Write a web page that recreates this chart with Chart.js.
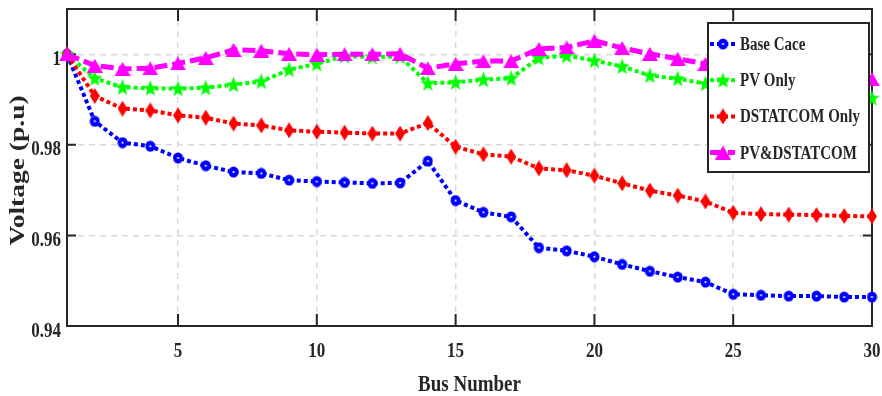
<!DOCTYPE html>
<html>
<head>
<meta charset="utf-8">
<script src="https://cdn.jsdelivr.net/npm/chart.js@4.4.1/dist/chart.umd.min.js"></script>
<style>
  html, body { margin: 0; padding: 0; background: #fff; }
</style>
</head>
<body>
<canvas id="chart" width="882" height="396"></canvas>
<script>
const busNumbers = [1, 2, 3, 4, 5, 6, 7, 8, 9, 10, 11, 12, 13, 14, 15,
    16, 17, 18, 19, 20, 21, 22, 23, 24, 25, 26, 27, 28, 29, 30];

const baseCase = [1.0, 0.9852, 0.9805, 0.9797, 0.9771, 0.9754, 0.9740, 0.9737, 0.9722, 0.9719,
    0.9717, 0.9715, 0.9716, 0.9764, 0.9677, 0.9651, 0.9641, 0.9573, 0.9566, 0.9553,
    0.9536, 0.9521, 0.9508, 0.9497, 0.9470, 0.9468, 0.9466, 0.9466, 0.9464, 0.9464];

const pvOnly = [1.0, 0.9947, 0.9927, 0.9925, 0.9924, 0.9926, 0.9933, 0.9940, 0.9966, 0.9979,
    0.9996, 0.9994, 0.9995, 0.9936, 0.9938, 0.9944, 0.9947, 0.9992, 0.9997, 0.9986,
    0.9973, 0.9953, 0.9946, 0.9935, 0.9926, 0.9921, 0.9916, 0.9912, 0.9906, 0.9903];

const dstatcomOnly = [1.0, 0.9908, 0.9880, 0.9876, 0.9865, 0.9860, 0.9847, 0.9843, 0.9832, 0.9829,
    0.9827, 0.9825, 0.9825, 0.9848, 0.9796, 0.9779, 0.9774, 0.9748, 0.9744, 0.9732,
    0.9715, 0.9699, 0.9688, 0.9675, 0.9650, 0.9647, 0.9646, 0.9645, 0.9643, 0.9642];

const pvDstatcom = [1.0, 0.9975, 0.9968, 0.9969, 0.9980, 0.9992, 1.0010, 1.0008, 1.0001, 0.9999,
    1.0000, 1.0000, 1.0001, 0.9969, 0.9979, 0.9985, 0.9985, 1.0012, 1.0015, 1.0030,
    1.0014, 1.0001, 0.9990, 0.9979, 0.9973, 0.9967, 0.9961, 0.9956, 0.9951, 0.9945];

const xTicks = [5, 10, 15, 20, 25, 30];
const yTicks = [0.94, 0.96, 0.98, 1];

const serif = '"Liberation Serif", "Times New Roman", serif';
const ink = '#262626';
// the original figure is stretched vertically, text included
const stretch = 1.25;

// marker images (MATLAB style filled markers)
function marker(w, h, draw) {
    const c = document.createElement('canvas');
    c.width = w;
    c.height = h;
    draw(c.getContext('2d'), w, h);
    return c;
}

const circleMark = marker(11, 12, (g) => {
    g.fillStyle = '#0000ff';
    g.beginPath(); g.ellipse(5.5, 6, 5, 5.6, 0, 0, Math.PI * 2); g.fill();
    g.fillStyle = '#ffffff';
    g.beginPath(); g.arc(5.5, 6, 1.1, 0, Math.PI * 2); g.fill();
});

const starMark = marker(17, 18, (g) => {
    g.fillStyle = '#00ff00';
    g.beginPath();
    for (let i = 0; i < 10; i++) {
        const r = i % 2 === 0 ? 8 : 3.3;
        const a = -Math.PI / 2 + i * Math.PI / 5;
        const px = 8.5 + r * Math.cos(a), py = 9.5 + r * Math.sin(a) * 1.1;
        i === 0 ? g.moveTo(px, py) : g.lineTo(px, py);
    }
    g.closePath();
    g.fill();
});

const diamondMark = marker(10, 16, (g) => {
    g.fillStyle = '#ff0000';
    g.beginPath();
    g.moveTo(5, 0); g.lineTo(10, 8); g.lineTo(5, 16); g.lineTo(0, 8);
    g.closePath();
    g.fill();
});

const triangleMark = marker(16, 14, (g) => {
    g.fillStyle = '#ff00ff';
    g.beginPath();
    g.moveTo(8, 0); g.lineTo(16, 14); g.lineTo(0, 14);
    g.closePath();
    g.fill();
});

function series(label, data, color, dash, width, mark, order) {
    return {
        label: label,
        data: busNumbers.map((b, i) => ({ x: b, y: data[i] })),
        borderColor: color,
        backgroundColor: color,
        borderWidth: width,
        borderDash: dash,
        pointStyle: mark,
        pointRadius: 4,
        tension: 0,
        clip: false,
        order: order
    };
}

const datasets = [
    series('Base Cace', baseCase, '#0000ff', [4, 3], 4, circleMark, 3),
    series('PV Only', pvOnly, '#00ff00', [4, 3], 4, starMark, 2),
    series('DSTATCOM Only', dstatcomOnly, '#ff0000', [4, 3], 4, diamondMark, 1),
    series('PV&DSTATCOM', pvDstatcom, '#ff00ff', [13, 5], 5, triangleMark, 0)
];

function tallText(ctx, text, x, y, align, size) {
    ctx.save();
    ctx.translate(x, y);
    ctx.scale(1, stretch);
    ctx.font = 'bold ' + size + 'px ' + serif;
    ctx.textAlign = align;
    ctx.textBaseline = 'alphabetic';
    ctx.fillStyle = ink;
    ctx.fillText(text, 0, 0);
    ctx.restore();
}

// box around the axes, inward tick marks, tick labels and axis titles
const framePlugin = {
    id: 'frame',
    beforeDatasetsDraw(chart) {
        const { ctx, chartArea: a, scales: { x, y } } = chart;
        ctx.save();
        ctx.strokeStyle = ink;
        ctx.lineWidth = 2;
        ctx.setLineDash([]);
        ctx.strokeRect(a.left, a.top, a.right - a.left, a.bottom - a.top);
        ctx.beginPath();
        xTicks.forEach(v => {
            const px = x.getPixelForValue(v);
            ctx.moveTo(px, a.bottom); ctx.lineTo(px, a.bottom - 12);
            ctx.moveTo(px, a.top); ctx.lineTo(px, a.top + 12);
        });
        yTicks.forEach(v => {
            const py = y.getPixelForValue(v);
            ctx.moveTo(a.left, py); ctx.lineTo(a.left + 9, py);
            ctx.moveTo(a.right, py); ctx.lineTo(a.right - 9, py);
        });
        ctx.stroke();
        ctx.restore();
    },
    afterDraw(chart) {
        const { ctx, chartArea: a, scales: { x, y } } = chart;
        xTicks.forEach(v => tallText(ctx, String(v), x.getPixelForValue(v), a.bottom + 30.5, 'center', 17));
        yTicks.forEach(v => tallText(ctx, String(v), a.left - 6, y.getPixelForValue(v) + 10.5, 'right', 17));
        tallText(ctx, 'Bus Number', (a.left + a.right) / 2, a.bottom + 64.5, 'center', 19);

        ctx.save();
        ctx.translate(24, (a.top + a.bottom) / 2 + 3);
        ctx.rotate(-Math.PI / 2);
        ctx.scale(stretch, 1);
        ctx.font = 'bold 22px ' + serif;
        ctx.textAlign = 'center';
        ctx.textBaseline = 'alphabetic';
        ctx.fillStyle = ink;
        ctx.fillText('Voltage (p.u)', 0, 0);
        ctx.restore();
    }
};

// legend box in the top right corner of the plot
const legendPlugin = {
    id: 'boxLegend',
    afterDraw(chart) {
        const { ctx, chartArea: a } = chart;
        const w = 161, h = 149;
        const left = a.right - 3 - w, top = a.top + 14;
        ctx.save();
        ctx.fillStyle = '#ffffff';
        ctx.fillRect(left, top, w, h);
        ctx.strokeStyle = ink;
        ctx.lineWidth = 2;
        ctx.strokeRect(left, top, w, h);
        chart.data.datasets.forEach((ds, i) => {
            const cy = top + 21 + i * 36.2;
            ctx.strokeStyle = ds.borderColor;
            ctx.lineWidth = ds.borderWidth;
            ctx.setLineDash(ds.borderDash);
            ctx.beginPath();
            ctx.moveTo(left + 2, cy);
            ctx.lineTo(left + 27, cy);
            ctx.stroke();
            ctx.setLineDash([]);
            const m = ds.pointStyle;
            ctx.drawImage(m, left + 15 - m.width / 2, cy - m.height / 2);
            tallText(ctx, ds.label, left + 32, cy + 6, 'left', 15);
        });
        ctx.restore();
    }
};

new Chart(document.getElementById('chart'), {
    type: 'line',
    data: { datasets: datasets },
    options: {
        responsive: false,
        animation: false,
        events: [],
        layout: { autoPadding: false, padding: { top: 9, right: 10, left: 0, bottom: 0 } },
        plugins: {
            legend: { display: false },
            tooltip: { enabled: false }
        },
        scales: {
            x: {
                type: 'linear',
                min: 1,
                max: 30,
                afterBuildTicks: (scale) => { scale.ticks = xTicks.map(v => ({ value: v })); },
                afterFit: (scale) => {
                    scale.height = 70;
                    scale.paddingLeft = 0;
                    scale.paddingRight = 0;
                },
                grid: { color: '#d9d9d9', lineWidth: 1.5, drawTicks: false },
                border: { display: false, dash: [6, 5] },
                ticks: { display: false }
            },
            y: {
                min: 0.94,
                max: 1.01,
                afterBuildTicks: (scale) => { scale.ticks = yTicks.map(v => ({ value: v })); },
                afterFit: (scale) => {
                    scale.width = 67;
                    scale.paddingTop = 0;
                    scale.paddingBottom = 0;
                },
                grid: { color: '#d9d9d9', lineWidth: 1.5, drawTicks: false },
                border: { display: false, dash: [6, 5] },
                ticks: { display: false }
            }
        }
    },
    plugins: [framePlugin, legendPlugin]
});
</script>
</body>
</html>
